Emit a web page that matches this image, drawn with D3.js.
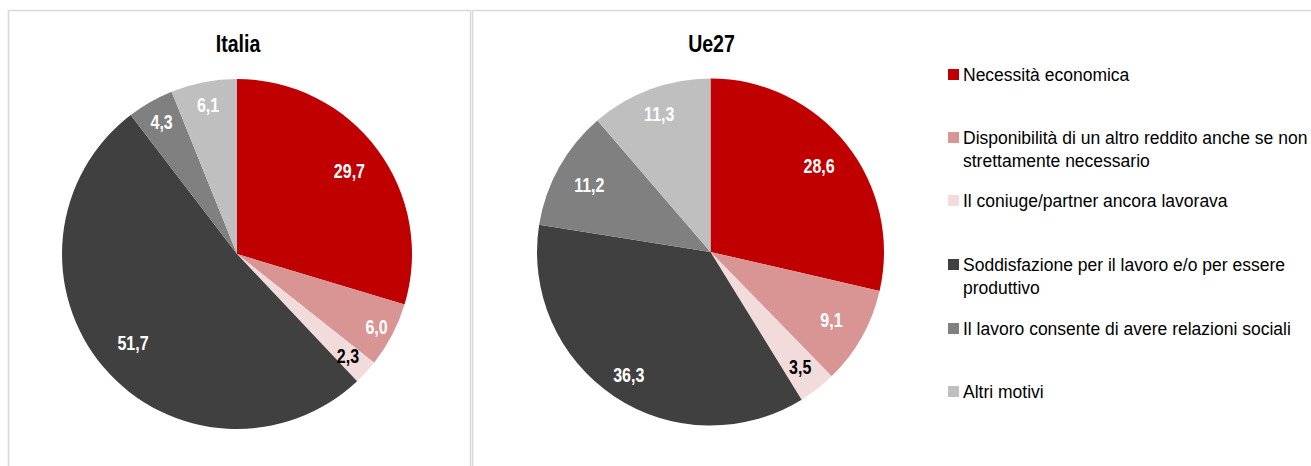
<!DOCTYPE html>
<html>
<head>
<meta charset="utf-8">
<script src="https://cdn.jsdelivr.net/npm/d3@7"></script>
<style>
  body { margin: 0; background: #fff; }
  text { font-family: "Liberation Sans", Arial, sans-serif; }
</style>
</head>
<body>
<svg id="chart"></svg>
<script>
// categories and values
var categories = [
    "Necessità economica",
    "Disponibilità di un altro reddito anche se non strettamente necessario",
    "Il coniuge/partner ancora lavorava",
    "Soddisfazione per il lavoro e/o per essere produttivo",
    "Il lavoro consente di avere relazioni sociali",
    "Altri motivi"
]
var legendLines = [
    ["Necessità economica"],
    ["Disponibilità di un altro reddito anche se non", "strettamente necessario"],
    ["Il coniuge/partner ancora lavorava"],
    ["Soddisfazione per il lavoro e/o per essere", "produttivo"],
    ["Il lavoro consente di avere relazioni sociali"],
    ["Altri motivi"]
]
var italiaValues = [29.7, 6.0, 2.3, 51.7, 4.3, 6.1]
var ue27Values = [28.6, 9.1, 3.5, 36.3, 11.2, 11.3]
var panelTitles = ["Italia", "Ue27"]

var colors = ["#C00000", "#D99594", "#F2DCDB", "#404040", "#808080", "#BFBFBF"]
var labelColors = ["#fff", "#fff", "#000", "#fff", "#fff", "#fff"]

var width = 1311, height = 466
var svg = d3.select("#chart").attr("width", width).attr("height", height)

//panel frames
svg.append("rect")
   .attr("x", 8.5).attr("y", 10.5)
   .attr("width", 462).attr("height", 470)
   .attr("fill", "none").attr("stroke", "#D9D9D9").attr("stroke-width", 1.5)
svg.append("rect")
   .attr("x", 472.5).attr("y", 10.5)
   .attr("width", 900).attr("height", 470)
   .attr("fill", "none").attr("stroke", "#D9D9D9").attr("stroke-width", 1.5)

var pie = d3.pie().sort(null).value(d => d)
var fmt = v => d3.format(".1f")(v).replace(".", ",")

//label distance from centre, as share of the radius (excel "best fit" look)
var pies = [
    {title: panelTitles[0], values: italiaValues, cx: 237, cy: 254, r: 175,
     labelPos: [0.8, 0.9, 0.86, 0.78, 0.87, 0.87]},
    {title: panelTitles[1], values: ue27Values, cx: 710.5, cy: 252, r: 173.5,
     labelPos: [0.8, 0.8, 0.84, 0.85, 0.8, 0.85]}
]

pies.forEach(p => {
    var g = svg.append("g").attr("transform", `translate(${p.cx},${p.cy})`)
    var arc = d3.arc().innerRadius(0).outerRadius(p.r)
    var arcs = pie(p.values)

    g.selectAll(".slice")
     .data(arcs)
     .enter()
     .append("path")
     .attr("class", "slice")
     .attr("d", arc)
     .attr("fill", (d, i) => colors[i])

    //narrow-looking labels: horizontally squeezed bold text
    g.selectAll(".lbl")
     .data(arcs)
     .enter()
     .append("text")
     .attr("class", "lbl")
     .attr("transform", (d, i) => {
         var lr = p.r * p.labelPos[i]
         var c = d3.arc().innerRadius(lr).outerRadius(lr).centroid(d)
         return `translate(${c}) scale(0.8,1)`
     })
     .attr("text-anchor", "middle")
     .attr("dy", "0.36em")
     .attr("font-size", 20)
     .attr("font-weight", "bold")
     .attr("fill", (d, i) => labelColors[i])
     .text(d => fmt(d.data))

    svg.append("text")
       .attr("transform", `translate(${p.cx + 1},52) scale(0.85,1)`)
       .attr("text-anchor", "middle")
       .attr("font-size", 23)
       .attr("font-weight", "bold")
       .attr("fill", "#000")
       .text(p.title)
})

//legend
var legendY = [75, 138, 201, 265, 329, 392]
var legend = svg.append("g")
legendLines.forEach((lines, i) => {
    legend.append("rect")
          .attr("x", 948).attr("y", legendY[i] - 6)
          .attr("width", 11).attr("height", 11)
          .attr("fill", colors[i])
    var t = legend.append("text")
                  .attr("x", 963).attr("y", legendY[i])
                  .attr("font-size", 17.5)
                  .attr("fill", "#000")
    lines.forEach((line, j) => {
        t.append("tspan")
         .attr("x", 963)
         .attr("dy", j === 0 ? "0.36em" : "1.3em")
         .text(line)
    })
})
</script>
</body>
</html>
